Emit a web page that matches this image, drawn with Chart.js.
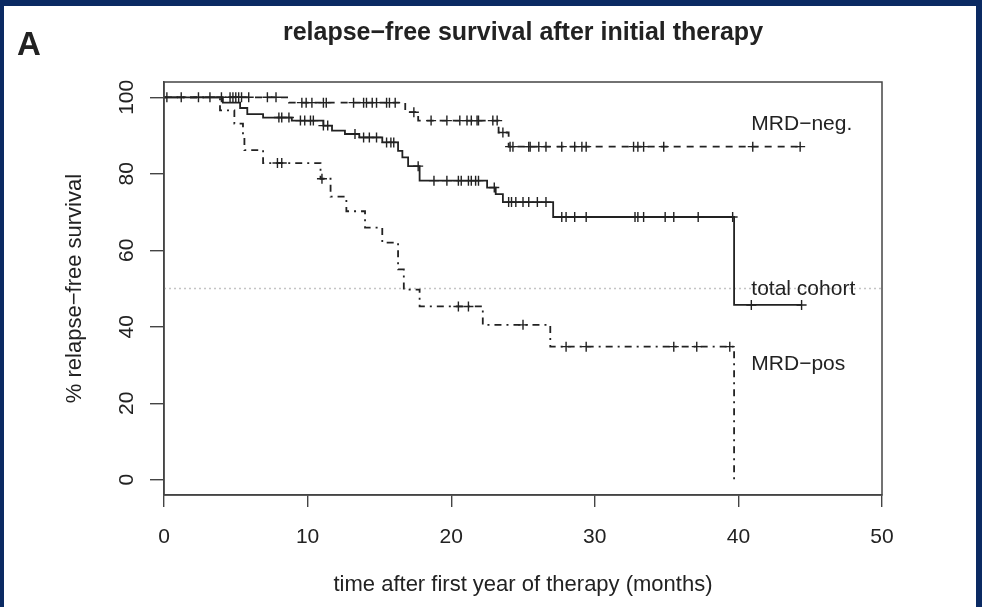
<!DOCTYPE html>
<html>
<head>
<meta charset="utf-8">
<script src="https://cdn.jsdelivr.net/npm/chart.js@4"></script>
<style>
  html, body { margin: 0; padding: 0; background: #ffffff; }
  canvas { display: block; }
</style>
</head>
<body>
<canvas id="km" width="982" height="607"></canvas>
<script>
// Kaplan-Meier relapse-free survival, three groups.
// Each curve: event times (months) and survival (%) right after each event.
const totalTimes = [0, 4.1, 5.3, 5.8, 6.9, 8.9, 11.1, 11.7, 12.6, 13.6, 15.2, 16.3, 16.6, 17.0, 17.8, 22.5, 23.1, 23.6, 27.1, 39.7];
const totalSurv  = [100, 98.6, 97.2, 95.6, 94.7, 93.9, 92.6, 91.3, 90.4, 89.5, 88.2, 86.0, 84.3, 82.0, 78.2, 76.4, 74.7, 72.6, 68.7, 45.7];
const totalEnd   = 44.4;
const totalCensor = [0.2, 1.2, 2.4, 3.2, 4.0, 8.0, 8.2, 8.7, 9.5, 9.8, 10.2, 10.4, 11.1, 11.4, 13.3, 13.9, 14.3, 14.8,
                     15.5, 15.8, 16.0, 17.7, 18.8, 19.7, 20.5, 20.7, 21.2, 21.4, 21.7, 21.9, 23.0, 24.0, 24.2, 24.5,
                     25.0, 25.4, 26.0, 26.6, 27.7, 28.0, 28.6, 29.4, 32.8, 33.0, 33.4, 34.9, 35.5, 37.2, 39.6, 40.9, 44.4];

const negTimes = [0, 8.7, 16.8, 17.7, 23.3, 24.0];
const negSurv  = [100, 98.6, 96.1, 93.9, 90.8, 87.1];
const negEnd   = 44.3;
const negCensor = [4.6, 4.8, 5.0, 5.2, 5.4, 5.9, 7.2, 7.8, 9.6, 9.9, 10.3, 11.1, 11.3, 13.2, 13.9, 14.1, 14.5, 14.8,
                   15.5, 15.7, 16.1, 17.4, 18.6, 19.7, 20.6, 21.1, 21.4, 21.8, 21.9, 22.9, 23.2, 23.6, 24.1, 24.3,
                   25.4, 25.5, 26.1, 26.6, 27.7, 28.6, 29.1, 29.4, 32.7, 33.0, 33.4, 34.8, 41.0, 44.3];

const posTimes = [0, 3.9, 4.9, 5.5, 5.6, 6.9, 10.9, 11.6, 12.7, 14.0, 15.2, 16.3, 16.7, 17.8, 22.2, 26.9, 39.7];
const posSurv  = [100, 96.6, 93.1, 89.7, 86.2, 82.8, 78.7, 74.0, 70.2, 65.9, 62.0, 55.0, 49.7, 45.3, 40.5, 34.8, 0];
const posEnd   = 39.7;
const posCensor = [7.9, 8.2, 11.0, 20.5, 21.2, 25.0, 28.0, 29.4, 35.5, 37.1, 39.4];

const medianLine = [50, 50];
const xTicks = [0, 10, 20, 30, 40, 50];
const yTicks = [0, 20, 40, 60, 80, 100];

const titleText = 'relapse\u2212free survival after initial therapy';
const panelLetter = 'A';
const xTitle = 'time after first year of therapy (months)';
const yTitle = '% relapse\u2212free survival';
const curveLabels = [
  { text: 'MRD\u2212neg.',    x: 40.9, y: 91.4 },
  { text: 'total cohort',     x: 40.9, y: 48.3 },
  { text: 'MRD\u2212pos',     x: 40.9, y: 28.7 }
];

const FONT = "'Liberation Sans', Arial, Helvetica, sans-serif";
const INK = '#222222';
const AXIS = '#444444';

function stepPoints(times, surv, end) {
  const pts = times.map((t, i) => ({ x: t, y: surv[i] }));
  if (end > times[times.length - 1]) pts.push({ x: end, y: surv[surv.length - 1] });
  return pts;
}
function survivalAt(times, surv, t) {
  let s = surv[0];
  for (let i = 0; i < times.length; i++) if (times[i] <= t) s = surv[i];
  return s;
}
function censorPoints(censor, times, surv) {
  return censor.map(t => ({ x: t, y: survivalAt(times, surv, t) }));
}

function curve(points, dash) {
  return { type: 'scatter', showLine: true, stepped: 'before', data: points,
           borderColor: INK, borderWidth: 1.8, borderDash: dash, pointRadius: 0, fill: false };
}
function marks(points) {
  return { type: 'scatter', showLine: false, data: points, pointStyle: 'cross',
           pointRadius: 5, pointBorderWidth: 1.4, borderColor: INK, backgroundColor: INK };
}

const framePlugin = {
  id: 'frame',
  beforeDraw(chart) {
    const ctx = chart.ctx;
    ctx.save();
    ctx.fillStyle = '#0b2a63';
    ctx.fillRect(0, 0, chart.width, chart.height);
    ctx.fillStyle = '#ffffff';
    ctx.fillRect(4, 6, chart.width - 10, chart.height - 6);
    ctx.restore();
  }
};

const textPlugin = {
  id: 'texts',
  afterDraw(chart) {
    const ctx = chart.ctx;
    const area = chart.chartArea;
    const xs = chart.scales.x, ys = chart.scales.y;
    ctx.save();
    // plot box
    ctx.strokeStyle = AXIS;
    ctx.lineWidth = 1.5;
    ctx.strokeRect(area.left, area.top, area.right - area.left, area.bottom - area.top);

    ctx.fillStyle = INK;
    ctx.textAlign = 'left';
    ctx.textBaseline = 'alphabetic';
    ctx.font = 'bold 33px ' + FONT;
    ctx.fillText(panelLetter, 17, 55);

    ctx.textAlign = 'center';
    ctx.font = 'bold 25px ' + FONT;
    ctx.fillText(titleText, (area.left + area.right) / 2, 40);

    // rotated y tick labels
    ctx.font = '21px ' + FONT;
    yTicks.forEach(v => {
      ctx.save();
      ctx.translate(133, ys.getPixelForValue(v));
      ctx.rotate(-Math.PI / 2);
      ctx.textAlign = 'center';
      ctx.fillText(String(v), 0, 0);
      ctx.restore();
    });

    ctx.textAlign = 'left';
    curveLabels.forEach(l => {
      ctx.fillText(l.text, xs.getPixelForValue(l.x), ys.getPixelForValue(l.y));
    });
    ctx.restore();
  }
};

new Chart(document.getElementById('km'), {
  type: 'scatter',
  data: {
    datasets: [
      marks(censorPoints(totalCensor, totalTimes, totalSurv)),
      marks(censorPoints(negCensor, negTimes, negSurv)),
      marks(censorPoints(posCensor, posTimes, posSurv)),
      curve(stepPoints(totalTimes, totalSurv, totalEnd), []),
      curve(stepPoints(negTimes, negSurv, negEnd), [7, 6]),
      curve(stepPoints(posTimes, posSurv, posEnd), [2, 5, 7, 5]),
      { type: 'scatter', showLine: true, data: [{ x: xTicks[0], y: medianLine[0] }, { x: xTicks[xTicks.length - 1], y: medianLine[1] }],
        borderColor: '#c4c4c4', borderWidth: 1.3, borderDash: [2, 3], pointRadius: 0 }
    ]
  },
  options: {
    responsive: false,
    animation: false,
    devicePixelRatio: 1,
    layout: { padding: { left: 0, right: 100, top: 82, bottom: 0 } },
    plugins: { legend: { display: false }, tooltip: { enabled: false }, title: { display: false } },
    scales: {
      x: {
        type: 'linear', position: 'bottom', min: 0, max: 50,
        afterFit(s) { s.height = 112; },
        afterBuildTicks(s) { s.ticks = xTicks.map(v => ({ value: v })); },
        grid: { drawOnChartArea: false, drawTicks: true, tickLength: 12, color: AXIS, lineWidth: 1.4 },
        border: { display: true, color: AXIS, width: 1.5 },
        ticks: { font: { family: FONT, size: 21 }, color: INK, padding: 18, maxRotation: 0, autoSkip: false },
        title: { display: true, text: xTitle, color: INK, font: { family: FONT, size: 22 }, padding: { top: 0, bottom: 9 } }
      },
      y: {
        type: 'linear', position: 'left', min: -4, max: 104,
        afterFit(s) { s.width = 164; },
        afterBuildTicks(s) { s.ticks = yTicks.map(v => ({ value: v })); },
        grid: { drawOnChartArea: false, drawTicks: true, tickLength: 14, color: AXIS, lineWidth: 1.4 },
        border: { display: true, color: AXIS, width: 1.5 },
        ticks: { display: false },
        title: { display: true, text: yTitle, color: INK, font: { family: FONT, size: 22 }, padding: { top: 62, bottom: 0 } }
      }
    }
  },
  plugins: [framePlugin, textPlugin]
});
</script>
</body>
</html>
